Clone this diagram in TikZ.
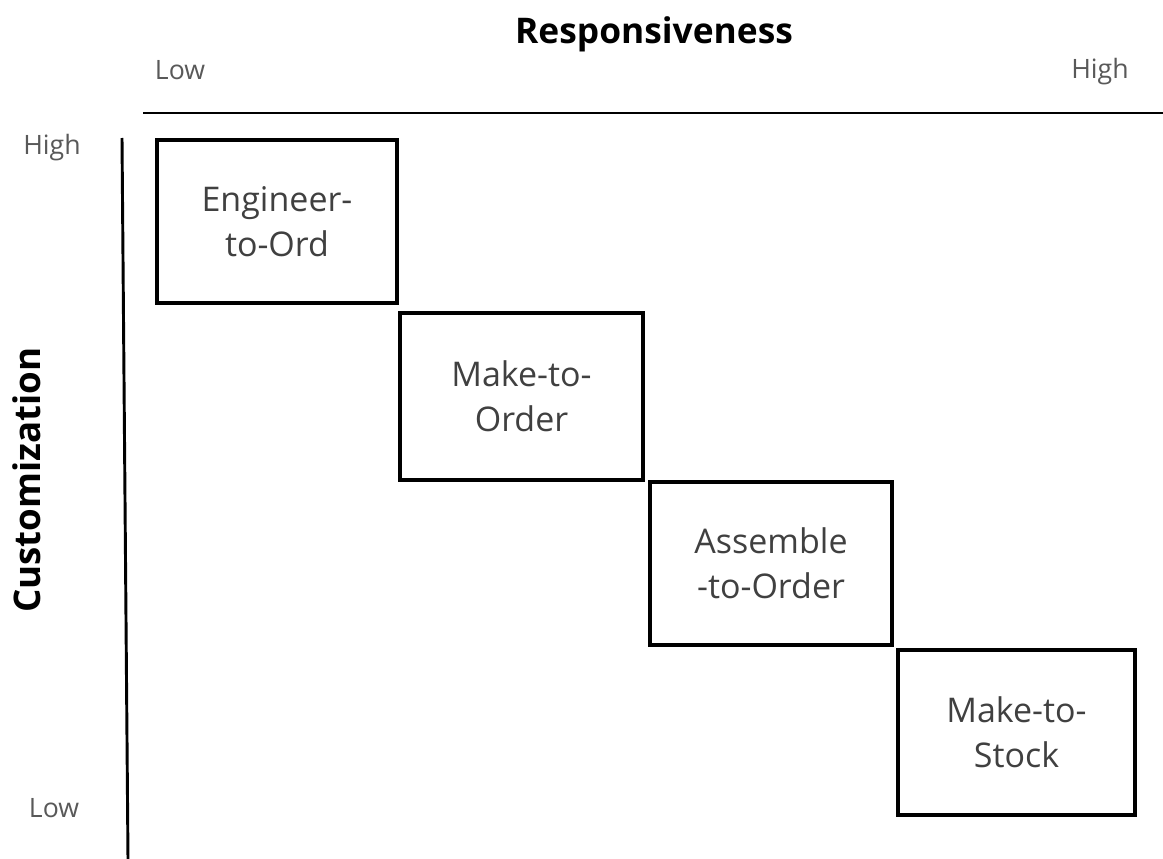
\documentclass[tikz,border=0pt]{standalone}
\usepackage{fontspec}
\setmainfont{Open Sans}
\begin{document}
\begin{tikzpicture}[x=0.75pt,y=-0.75pt,
  stagebox/.style={draw=black,line width=3.5pt,fill=none,inner sep=0pt,
    text=black!75,align=center,font=\fontsize{25.5}{34}\selectfont},
  axisline/.style={draw=black,line width=2.2pt},
  axistitle/.style={font=\fontsize{26.5}{30}\selectfont\bfseries,text=black,inner sep=0pt},
  levellabel/.style={font=\fontsize{20}{24}\selectfont,text=black!65,inner sep=0pt}]
\useasboundingbox (0,0) rectangle (1163,859);
% boxes
\node[stagebox,minimum width=180pt,minimum height=122.25pt] (eto) at (277,221.5) {Engineer-\\to-Ord};
\node[stagebox,minimum width=182.25pt,minimum height=125.25pt] (mto) at (521.5,396.5) {Make-to-\\Order};
\node[stagebox,minimum width=181.5pt,minimum height=122.25pt] (ato) at (771,563.5) {Assemble\\-to-Order};
\node[stagebox,minimum width=177.75pt,minimum height=123.75pt] (mts) at (1016.5,732.5) {Make-to-\\Stock};
% axes
\coordinate (hstart) at (143,113);
\coordinate (hend) at (1163,113);
\coordinate (vstart) at (122,138);
\coordinate (vend) at (128,859);
\draw[axisline] (hstart) -- (hend);
\draw[axisline] (vstart) -- (vend);
% titles and labels
\node[axistitle] (resp) at (654,34) {Responsiveness};
\node[axistitle,rotate=90,font=\fontsize{27.5}{30}\selectfont\bfseries] (cust) at (27,480) {Customization};
\node[levellabel] (rlow) at (180,70) {Low};
\node[levellabel] (rhigh) at (1100,72) {High};
\node[levellabel] (chigh) at (52,148) {High};
\node[levellabel] (clow) at (54,808) {Low};
\end{tikzpicture}
\end{document}
